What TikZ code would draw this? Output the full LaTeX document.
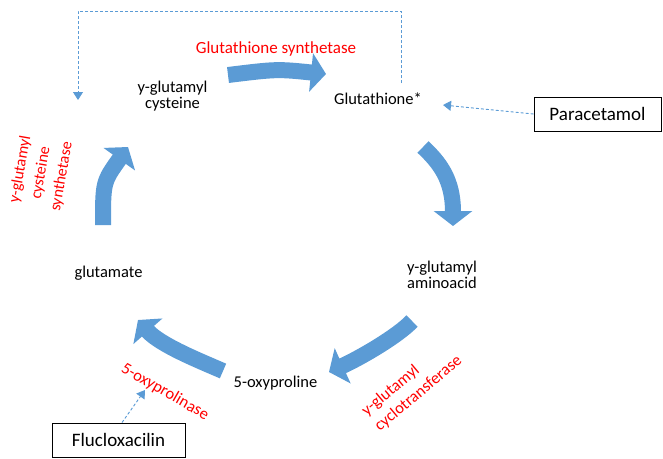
\documentclass[tikz,border=0pt]{standalone}
\usepackage{fontspec}
\setmainfont{Carlito}
\usetikzlibrary{arrows.meta}
\definecolor{arrowblue}{HTML}{5B9BD5}
\definecolor{enzred}{HTML}{FF0000}
\begin{document}
\begin{tikzpicture}[x=1pt,y=-1pt,
  fat/.style={line width=16pt, draw=arrowblue, -{Triangle[length=15pt,width=38pt]}},
  dashconn/.style={draw=arrowblue, line width=0.9pt, dash pattern=on 3pt off 2pt, -{Triangle[length=8pt,width=10pt]}},
  metab/.style={font=\fontsize{16.5}{16}\selectfont, align=center, inner sep=0pt},
  enzyme/.style={font=\fontsize{17}{19}\selectfont, text=enzred, align=center, inner sep=0pt},
  drugbox/.style={draw=black, line width=0.9pt, font=\fontsize{19}{20}\selectfont, minimum height=34pt, inner sep=0pt}]
\useasboundingbox (0,0) rectangle (663,458);

% metabolites
\node[metab] (gcys) at (172.5,96) {y-glutamyl\\cysteine};
\node[metab] (gsh) at (378,99) {Glutathione*};
\node[metab] (gaa) at (442,275) {y-glutamyl\\aminoacid};
\node[metab] (glu) at (108.5,273) {glutamate};
\node[metab] (oxo) at (275.5,383) {5-oxyproline};

% enzymes
\node[enzyme] (gs) at (276,49) {Glutathione synthetase};
\node[enzyme, rotate=80, font=\fontsize{16}{21}\selectfont] (gcs) at (41,173) {y-glutamyl\\cysteine\\synthetase};
\node[enzyme, rotate=40, align=left, font=\fontsize{16.5}{20}\selectfont] (gct) at (412,386) {y-glutamyl\\cyclotransferase};
\node[enzyme, rotate=-30, font=\fontsize{16.5}{18}\selectfont] (opl) at (165,392) {5-oxyprolinase};

% drugs
\node[drugbox, minimum width=127pt] (para) at (597.5,114) {Paracetamol};
\node[drugbox, minimum width=133pt] (fluc) at (118.5,440) {Flucloxacilin};

% fat cycle arrows
\coordinate (a1s) at (228,75);   \coordinate (a1e) at (326,74);
\coordinate (a2s) at (423,147);  \coordinate (a2e) at (453,226);
\coordinate (a3s) at (412,321);  \coordinate (a3e) at (329,372);
\coordinate (a4s) at (223,371);  \coordinate (a4e) at (138,320);
\coordinate (a5s) at (103,225);  \coordinate (a5e) at (128,147);
\draw[fat] (a1s) .. controls (277,69) .. (a1e);
\draw[fat] (a2s) .. controls (440,163) and (453,180) .. (a2e);
\draw[fat] (a3s) .. controls (398,336) and (360,358) .. (a3e);
\draw[fat] (a4s) .. controls (200,361) and (160,345) .. (a4e);
\draw[fat] (a5s) .. controls (103,182) .. (a5e);

% dashed connectors
\coordinate (loopstart) at (401,83);
\coordinate (loopcorner) at (78,11);
\coordinate (loopend) at (78,100);
\draw[dashconn] (loopstart) |- (loopcorner) -- (loopend);

\coordinate (paratip) at (443,105);
\draw[dashconn] (para.west) -- (paratip);

\coordinate (fluctip) at (145,390);
\draw[dashconn] ([xshift=3.5pt]fluc.north) -- (fluctip);
\end{tikzpicture}
\end{document}
